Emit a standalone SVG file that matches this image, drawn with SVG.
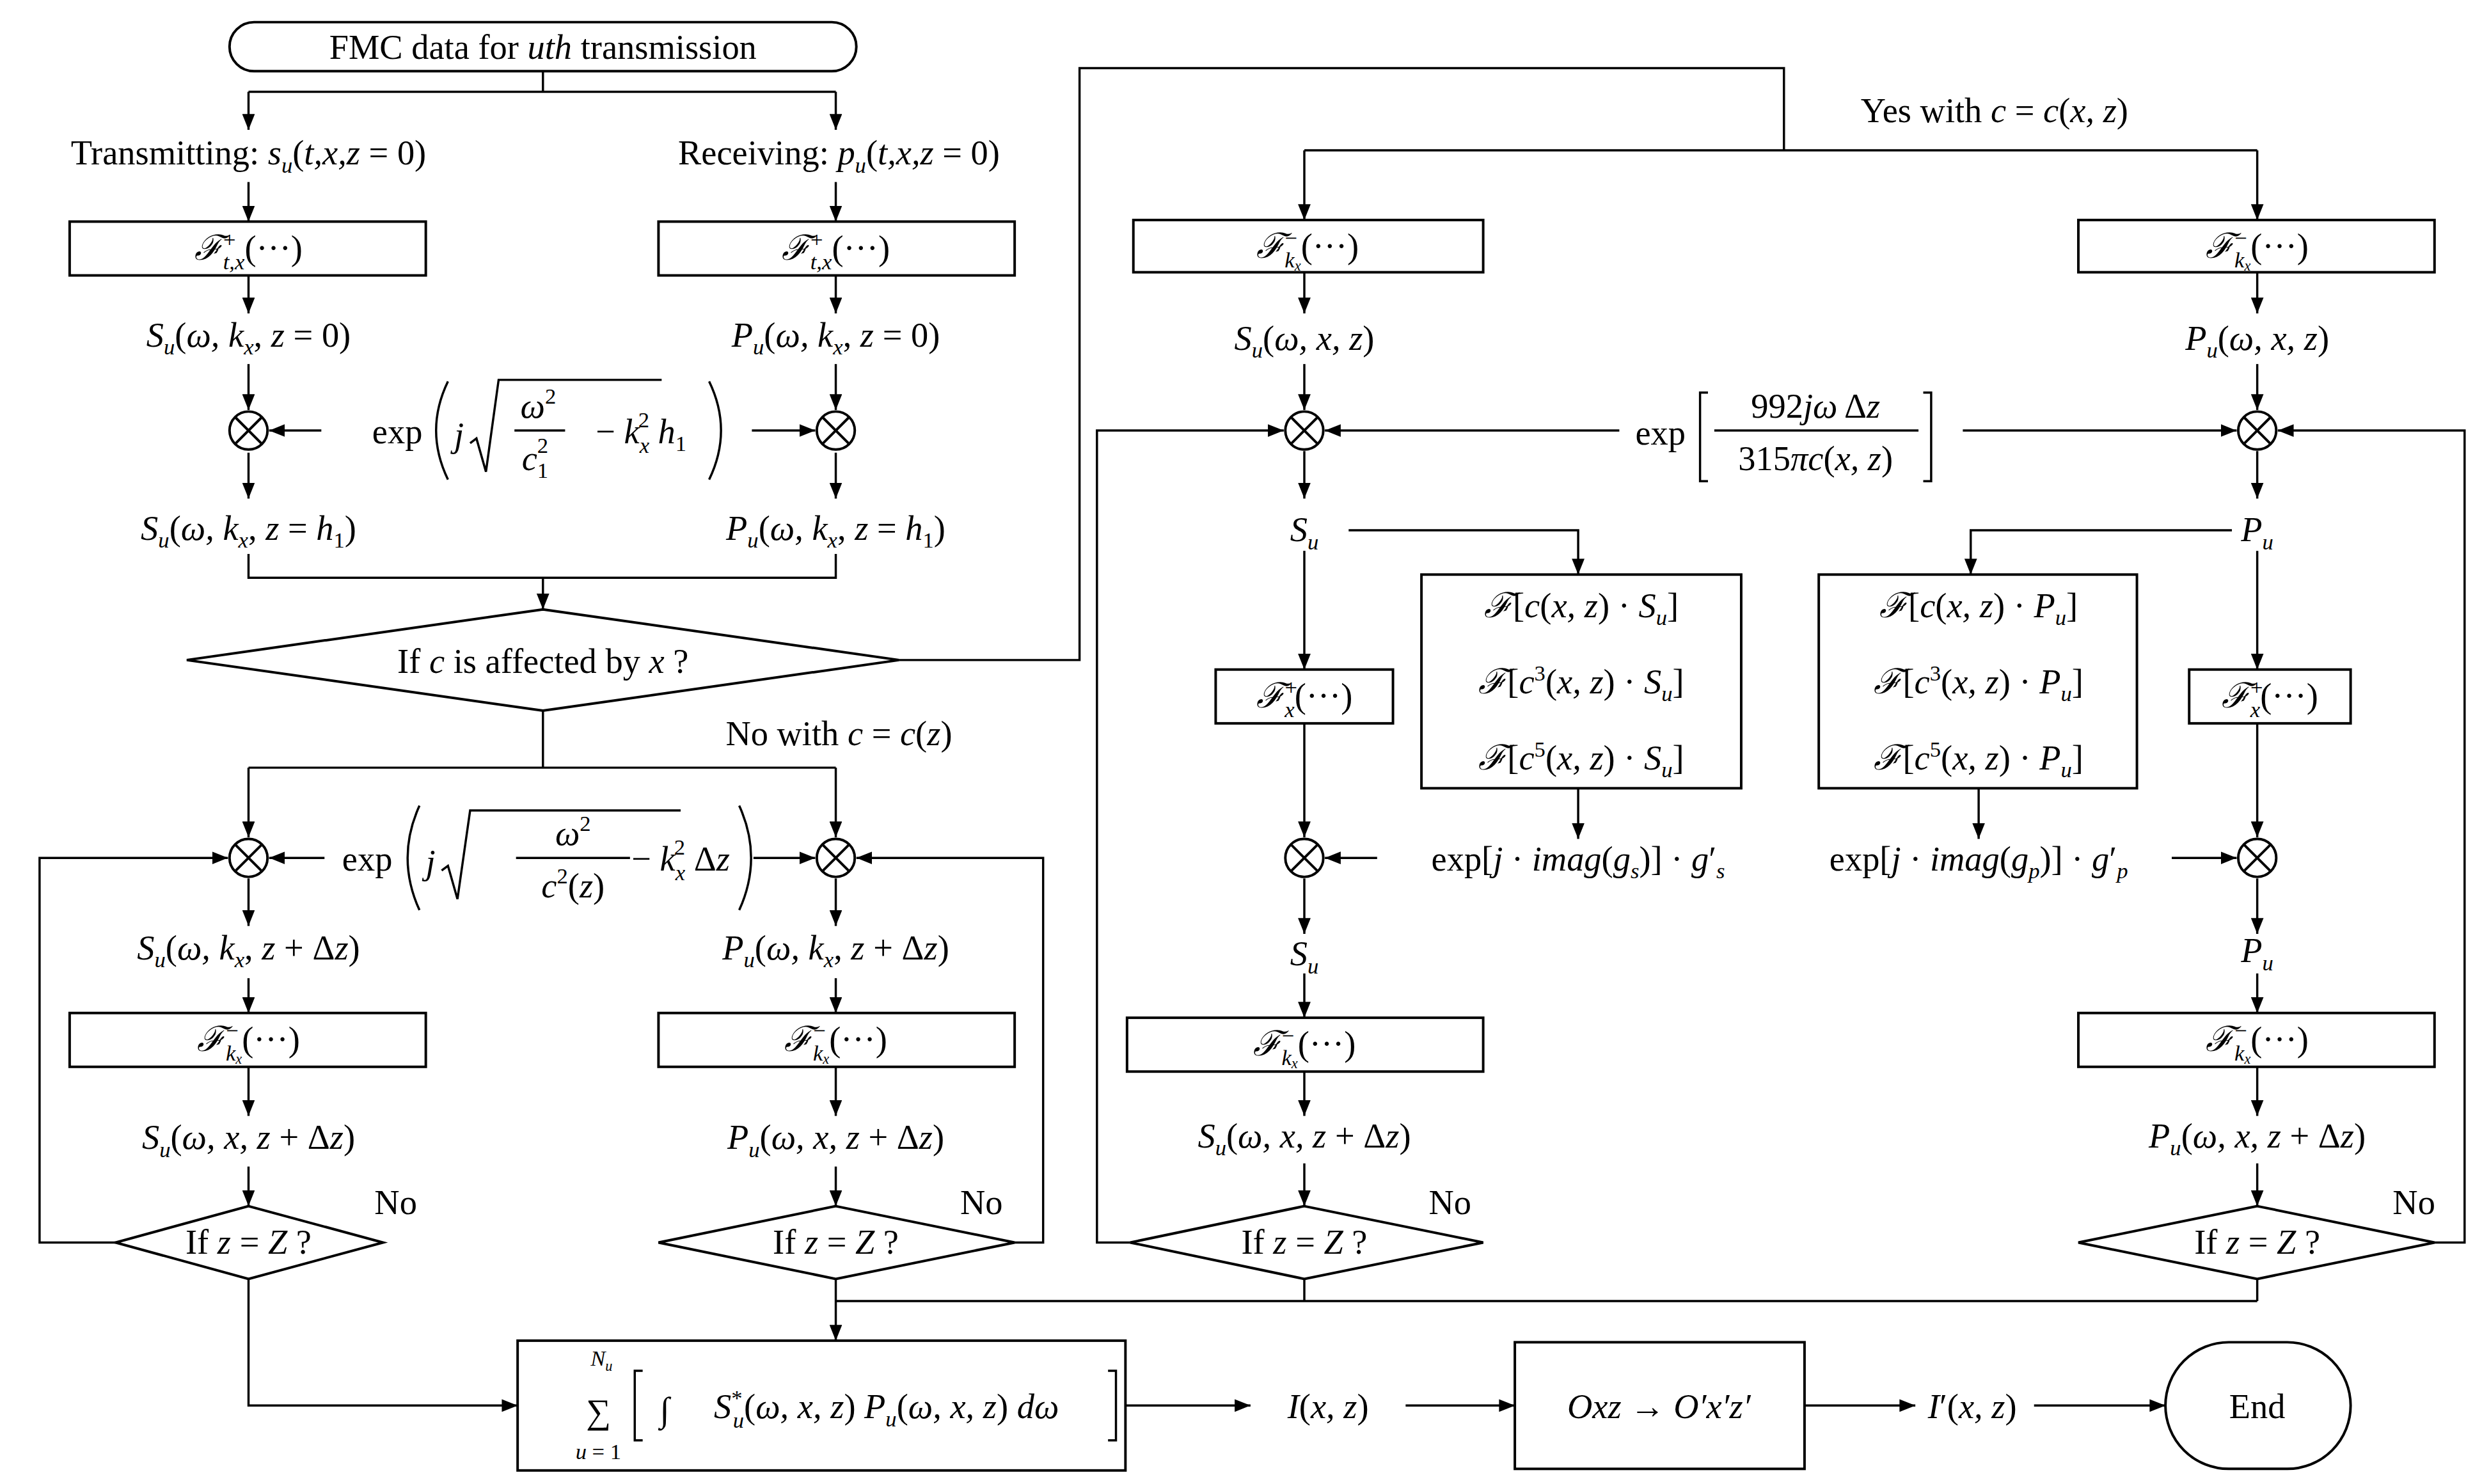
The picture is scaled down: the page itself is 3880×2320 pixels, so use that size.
<svg xmlns="http://www.w3.org/2000/svg" width="3880" height="2320" viewBox="0 0 3880 2320">
<defs>
<marker id="a" markerUnits="userSpaceOnUse" markerWidth="10" markerHeight="8" refX="10" refY="4" orient="auto"><path d="M0,0 L10,4 L0,8 z" fill="#000"/></marker>
<style>
.l{fill:none;stroke:#000;stroke-width:1.4}
.c{fill:none;stroke:#000;stroke-width:1.4;marker-end:url(#a)}
.b{fill:#fff;stroke:#000;stroke-width:1.6}
text{font-family:"Liberation Serif","Times New Roman",serif;font-size:22px;fill:#000;text-anchor:middle}
.i{font-style:italic}
.s{font-size:14px}
.x{stroke:#000;stroke-width:1.6}
</style>
</defs>
<rect width="3880" height="2320" fill="#fff"/>
<g transform="scale(2.4745)">
<g id="connectors">
<path class="l" d="M343,45V58M157,58H528"/>
<path class="c" d="M157,58V82"/><path class="c" d="M528,58V82"/>
<path class="c" d="M157,115V140"/><path class="c" d="M528,115V140"/>
<path class="c" d="M157,174V198"/><path class="c" d="M528,174V198"/>
<path class="c" d="M157,230V259"/><path class="c" d="M528,230V259"/>
<path class="c" d="M203,272H170"/><path class="c" d="M475,272H515"/>
<path class="c" d="M157,286V315"/><path class="c" d="M528,286V315"/>
<path class="l" d="M157,350V365H528V350"/><path class="c" d="M343,365V385"/>
<path class="l" d="M568,417H682V43H1127V95M824,95H1426"/>
<path class="c" d="M824,95V139"/><path class="c" d="M1426,95V139"/>
<path class="l" d="M343,449V485M157,485H528"/>
<path class="c" d="M157,485V529"/><path class="c" d="M528,485V529"/>
<path class="c" d="M205,542H170"/><path class="c" d="M476,542H515"/>
<path class="c" d="M73,785H25V542H144"/><path class="c" d="M641,785H659V542H541"/>
<path class="c" d="M157,555V585"/><path class="c" d="M528,555V585"/>
<path class="c" d="M157,618V640"/><path class="c" d="M528,618V640"/>
<path class="c" d="M157,674V705"/><path class="c" d="M528,674V705"/>
<path class="c" d="M157,737V762"/><path class="c" d="M528,737V762"/>
<path class="c" d="M157,808V888H327"/>
<path class="l" d="M824,808V822M1426,808V822M528,822H1426"/>
<path class="c" d="M528,808V847"/>
<path class="c" d="M711,888H790"/><path class="c" d="M888,888H957"/>
<path class="c" d="M1140,888H1210"/><path class="c" d="M1285,888H1368"/>
<path class="c" d="M824,172V198"/><path class="c" d="M1426,172V198"/>
<path class="c" d="M824,230V259"/><path class="c" d="M1426,230V259"/>
<path class="c" d="M1023,272H837"/><path class="c" d="M1240,272H1413"/>
<path class="c" d="M714,785H693V272H811"/><path class="c" d="M1538,785H1557V272H1439"/>
<path class="c" d="M824,285V315"/><path class="c" d="M1426,285V315"/>
<path class="c" d="M852,335H997V363"/><path class="c" d="M1410,335H1245V363"/>
<path class="c" d="M824,348V423"/><path class="c" d="M1426,348V423"/>
<path class="c" d="M824,457V529"/><path class="c" d="M1426,457V529"/>
<path class="c" d="M997,498V530"/><path class="c" d="M1250,498V530"/>
<path class="c" d="M870,542H837"/><path class="c" d="M1372,542H1413"/>
<path class="c" d="M824,555V590"/><path class="c" d="M1426,555V590"/>
<path class="c" d="M824,615V643"/><path class="c" d="M1426,615V640"/>
<path class="c" d="M824,677V705"/><path class="c" d="M1426,674V705"/>
<path class="c" d="M824,735V762"/><path class="c" d="M1426,735V762"/>
</g>

<g id="start"><rect class="b" x="145" y="14" width="396" height="31" rx="15.5"/><text x="343" y="37">FMC data for <tspan class="i">uth</tspan> transmission</text></g>
<g id="tx"><text x="157" y="104">Transmitting: <tspan class="i">s</tspan><tspan class="i s" dy="5">u</tspan><tspan dy="-5">(</tspan><tspan class="i">t,x,z</tspan> = 0)</text></g>
<g id="rx"><text x="530" y="104">Receiving: <tspan class="i">p</tspan><tspan class="i s" dy="5">u</tspan><tspan dy="-5">(</tspan><tspan class="i">t,x,z</tspan> = 0)</text></g>

<g id="ftx1"><rect class="b" x="44" y="140" width="225" height="34"/><text x="157" y="164"><tspan class="i">ℱ</tspan><tspan class="s" dy="-8">+</tspan><tspan class="i s" dx="-8" dy="14">t,x</tspan><tspan dy="-6">(···)</tspan></text></g>
<g id="ftx2"><rect class="b" x="416" y="140" width="225" height="34"/><text x="528" y="164"><tspan class="i">ℱ</tspan><tspan class="s" dy="-8">+</tspan><tspan class="i s" dx="-8" dy="14">t,x</tspan><tspan dy="-6">(···)</tspan></text></g>

<g id="s0"><text x="157" y="219"><tspan class="i">S</tspan><tspan class="i s" dy="5">u</tspan><tspan dy="-5">(</tspan><tspan class="i">ω, k</tspan><tspan class="i s" dy="5">x</tspan><tspan dy="-5">, </tspan><tspan class="i">z</tspan> = 0)</text></g>
<g id="p0"><text x="528" y="219"><tspan class="i">P</tspan><tspan class="i s" dy="5">u</tspan><tspan dy="-5">(</tspan><tspan class="i">ω, k</tspan><tspan class="i s" dy="5">x</tspan><tspan dy="-5">, </tspan><tspan class="i">z</tspan> = 0)</text></g>

<g id="m1"><circle class="b" cx="157" cy="272" r="12"/><path class="x" d="M149,264L165,280M165,264L149,280"/></g>
<g id="m2"><circle class="b" cx="528" cy="272" r="12"/><path class="x" d="M520,264L536,280M536,264L520,280"/></g>
<g id="e1">
<text x="251" y="280">exp</text>
<path class="l" d="M283,241Q268,272 283,303M448,241Q463,272 448,303"/>
<text x="290" y="282" class="i">j</text>
<path class="l" d="M297,280L301,277L307,298L315,240H418"/>
<text x="340" y="264" class="i">ω<tspan class="s" font-style="normal" dy="-9">2</tspan></text>
<path class="l" d="M325,272H357"/>
<text x="338" y="297" class="i">c<tspan class="s" font-style="normal" dy="5">1</tspan><tspan class="s" font-style="normal" dx="-7" dy="-16">2</tspan></text>
<text x="405" y="280">− <tspan class="i">k</tspan><tspan class="i s" dy="6">x</tspan><tspan class="s" dx="-7" dy="-16">2</tspan><tspan class="i" dy="10"> h</tspan><tspan class="s" dy="5">1</tspan></text>
</g>

<g id="s1"><text x="157" y="341"><tspan class="i">S</tspan><tspan class="i s" dy="5">u</tspan><tspan dy="-5">(</tspan><tspan class="i">ω, k</tspan><tspan class="i s" dy="5">x</tspan><tspan dy="-5">, </tspan><tspan class="i">z</tspan> = <tspan class="i">h</tspan><tspan class="s" dy="5">1</tspan><tspan dy="-5">)</tspan></text></g>
<g id="p1"><text x="528" y="341"><tspan class="i">P</tspan><tspan class="i s" dy="5">u</tspan><tspan dy="-5">(</tspan><tspan class="i">ω, k</tspan><tspan class="i s" dy="5">x</tspan><tspan dy="-5">, </tspan><tspan class="i">z</tspan> = <tspan class="i">h</tspan><tspan class="s" dy="5">1</tspan><tspan dy="-5">)</tspan></text></g>

<g id="d0"><path class="b" d="M343,385L568,417L343,449L118,417z"/><text x="343" y="425">If <tspan class="i">c</tspan>  is affected by <tspan class="i">x</tspan> ?</text></g>
<text x="1260" y="77">Yes with <tspan class="i">c</tspan> = <tspan class="i">c</tspan>(<tspan class="i">x, z</tspan>)</text>
<text x="530" y="471">No with <tspan class="i">c</tspan> = <tspan class="i">c</tspan>(<tspan class="i">z</tspan>)</text>

<g id="m3"><circle class="b" cx="157" cy="542" r="12"/><path class="x" d="M149,534L165,550M165,534L149,550"/></g>
<g id="m4"><circle class="b" cx="528" cy="542" r="12"/><path class="x" d="M520,534L536,550M536,534L520,550"/></g>
<g id="e2">
<text x="232" y="550">exp</text>
<path class="l" d="M265,509Q250,542 265,575M467,509Q482,542 467,575"/>
<text x="272" y="552" class="i">j</text>
<path class="l" d="M279,550L283,547L289,568L297,512H430"/>
<text x="362" y="534" class="i">ω<tspan class="s" font-style="normal" dy="-9">2</tspan></text>
<path class="l" d="M326,542H398"/>
<text x="362" y="567" class="i">c<tspan class="s" font-style="normal" dy="-9">2</tspan><tspan font-style="normal" dy="9">(</tspan>z<tspan font-style="normal">)</tspan></text>
<text x="430" y="550">− <tspan class="i">k</tspan><tspan class="i s" dy="6">x</tspan><tspan class="s" dx="-7" dy="-16">2</tspan><tspan dy="10"> Δ</tspan><tspan class="i">z</tspan></text>
</g>

<g id="s2"><text x="157" y="606"><tspan class="i">S</tspan><tspan class="i s" dy="5">u</tspan><tspan dy="-5">(</tspan><tspan class="i">ω, k</tspan><tspan class="i s" dy="5">x</tspan><tspan dy="-5">, </tspan><tspan class="i">z</tspan> + Δ<tspan class="i">z</tspan>)</text></g>
<g id="p2"><text x="528" y="606"><tspan class="i">P</tspan><tspan class="i s" dy="5">u</tspan><tspan dy="-5">(</tspan><tspan class="i">ω, k</tspan><tspan class="i s" dy="5">x</tspan><tspan dy="-5">, </tspan><tspan class="i">z</tspan> + Δ<tspan class="i">z</tspan>)</text></g>

<g id="fk1"><rect class="b" x="44" y="640" width="225" height="34"/><text x="157" y="664"><tspan class="i">ℱ</tspan><tspan class="s" dy="-8">−</tspan><tspan class="i s" dx="-8" dy="14">k</tspan><tspan class="i" font-size="9" dy="2">x</tspan><tspan dy="-8">(···)</tspan></text></g>
<g id="fk2"><rect class="b" x="416" y="640" width="225" height="34"/><text x="528" y="664"><tspan class="i">ℱ</tspan><tspan class="s" dy="-8">−</tspan><tspan class="i s" dx="-8" dy="14">k</tspan><tspan class="i" font-size="9" dy="2">x</tspan><tspan dy="-8">(···)</tspan></text></g>

<g id="s3"><text x="157" y="726"><tspan class="i">S</tspan><tspan class="i s" dy="5">u</tspan><tspan dy="-5">(</tspan><tspan class="i">ω, x, z</tspan> + Δ<tspan class="i">z</tspan>)</text></g>
<g id="p3"><text x="528" y="726"><tspan class="i">P</tspan><tspan class="i s" dy="5">u</tspan><tspan dy="-5">(</tspan><tspan class="i">ω, x, z</tspan> + Δ<tspan class="i">z</tspan>)</text></g>

<g id="d1"><path class="b" d="M157,762L242,785L157,808L73,785z"/><text x="157" y="792">If <tspan class="i">z</tspan> = <tspan class="i">Z</tspan> ?</text><text x="250" y="767">No</text></g>
<g id="d2"><path class="b" d="M528,762L641,785L528,808L416,785z"/><text x="528" y="792">If <tspan class="i">z</tspan> = <tspan class="i">Z</tspan> ?</text><text x="620" y="767">No</text></g>

<g id="sum"><rect class="b" x="327" y="847" width="384" height="82"/>
<text x="378" y="899" font-size="36">∑</text>
<text x="380" y="863" class="i s">N<tspan font-size="9" dy="3">u</tspan></text>
<text x="378" y="922" class="s"><tspan class="i">u</tspan> = 1</text>
<path class="l" d="M406,866H401V910H406M700,866H705V910H700"/>
<text x="420" y="898" font-size="32" class="i">∫</text>
<text x="560" y="896"><tspan class="i">S</tspan><tspan class="s" dy="-8">*</tspan><tspan class="i s" dx="-6" dy="14">u</tspan><tspan dy="-6">(</tspan><tspan class="i">ω, x, z</tspan>)<tspan class="i"> P</tspan><tspan class="i s" dy="5">u</tspan><tspan dy="-5">(</tspan><tspan class="i">ω, x, z</tspan>)<tspan class="i"> dω</tspan></text>
</g>
<text x="839" y="896"><tspan class="i">I</tspan>(<tspan class="i">x, z</tspan>)</text>
<g id="rot"><rect class="b" x="957" y="848" width="183" height="80"/><text x="1048" y="896" class="i">Oxz → O′x′z′</text></g>
<text x="1246" y="896"><tspan class="i">I</tspan>′(<tspan class="i">x, z</tspan>)</text>
<g id="end"><rect class="b" x="1368" y="848" width="117" height="80" rx="40"/><text x="1426" y="896">End</text></g>

<!-- right side -->
<g id="rk1"><rect class="b" x="716" y="139" width="221" height="33"/><text x="826" y="163"><tspan class="i">ℱ</tspan><tspan class="s" dy="-8">−</tspan><tspan class="i s" dx="-8" dy="14">k</tspan><tspan class="i" font-size="9" dy="2">x</tspan><tspan dy="-8">(···)</tspan></text></g>
<g id="rk2"><rect class="b" x="1313" y="139" width="225" height="33"/><text x="1426" y="163"><tspan class="i">ℱ</tspan><tspan class="s" dy="-8">−</tspan><tspan class="i s" dx="-8" dy="14">k</tspan><tspan class="i" font-size="9" dy="2">x</tspan><tspan dy="-8">(···)</tspan></text></g>
<g id="rs0"><text x="824" y="221"><tspan class="i">S</tspan><tspan class="i s" dy="5">u</tspan><tspan dy="-5">(</tspan><tspan class="i">ω, x, z</tspan>)</text></g>
<g id="rp0"><text x="1426" y="221"><tspan class="i">P</tspan><tspan class="i s" dy="5">u</tspan><tspan dy="-5">(</tspan><tspan class="i">ω, x, z</tspan>)</text></g>
<g id="m5"><circle class="b" cx="824" cy="272" r="12"/><path class="x" d="M816,264L832,280M832,264L816,280"/></g>
<g id="m6"><circle class="b" cx="1426" cy="272" r="12"/><path class="x" d="M1418,264L1434,280M1434,264L1418,280"/></g>
<g id="e3">
<text x="1049" y="281">exp</text>
<path class="l" d="M1079,248H1074V304H1079M1215,248H1220V304H1215"/>
<text x="1147" y="264">992<tspan class="i">jω</tspan> Δ<tspan class="i">z</tspan></text>
<path class="l" d="M1083,272H1212"/>
<text x="1147" y="297">315<tspan class="i">πc</tspan>(<tspan class="i">x, z</tspan>)</text>
</g>
<text x="824" y="342" class="i">S<tspan class="s" dy="5">u</tspan></text>
<text x="1426" y="342" class="i">P<tspan class="s" dy="5">u</tspan></text>
<g id="fs"><rect class="b" x="898" y="363" width="202" height="135"/>
<text x="999" y="390"><tspan class="i">ℱ</tspan>[<tspan class="i">c</tspan>(<tspan class="i">x, z</tspan>) · <tspan class="i">S</tspan><tspan class="i s" dy="5">u</tspan><tspan dy="-5">]</tspan></text>
<text x="999" y="438"><tspan class="i">ℱ</tspan>[<tspan class="i">c</tspan><tspan class="s" dy="-8">3</tspan><tspan dy="8">(</tspan><tspan class="i">x, z</tspan>) · <tspan class="i">S</tspan><tspan class="i s" dy="5">u</tspan><tspan dy="-5">]</tspan></text>
<text x="999" y="486"><tspan class="i">ℱ</tspan>[<tspan class="i">c</tspan><tspan class="s" dy="-8">5</tspan><tspan dy="8">(</tspan><tspan class="i">x, z</tspan>) · <tspan class="i">S</tspan><tspan class="i s" dy="5">u</tspan><tspan dy="-5">]</tspan></text>
</g>
<g id="fp"><rect class="b" x="1149" y="363" width="201" height="135"/>
<text x="1250" y="390"><tspan class="i">ℱ</tspan>[<tspan class="i">c</tspan>(<tspan class="i">x, z</tspan>) · <tspan class="i">P</tspan><tspan class="i s" dy="5">u</tspan><tspan dy="-5">]</tspan></text>
<text x="1250" y="438"><tspan class="i">ℱ</tspan>[<tspan class="i">c</tspan><tspan class="s" dy="-8">3</tspan><tspan dy="8">(</tspan><tspan class="i">x, z</tspan>) · <tspan class="i">P</tspan><tspan class="i s" dy="5">u</tspan><tspan dy="-5">]</tspan></text>
<text x="1250" y="486"><tspan class="i">ℱ</tspan>[<tspan class="i">c</tspan><tspan class="s" dy="-8">5</tspan><tspan dy="8">(</tspan><tspan class="i">x, z</tspan>) · <tspan class="i">P</tspan><tspan class="i s" dy="5">u</tspan><tspan dy="-5">]</tspan></text>
</g>
<g id="rf1"><rect class="b" x="768" y="423" width="112" height="34"/><text x="824" y="447"><tspan class="i">ℱ</tspan><tspan class="s" dy="-8">+</tspan><tspan class="i s" dx="-8" dy="14">x</tspan><tspan dy="-6">(···)</tspan></text></g>
<g id="rf2"><rect class="b" x="1383" y="423" width="102" height="34"/><text x="1434" y="447"><tspan class="i">ℱ</tspan><tspan class="s" dy="-8">+</tspan><tspan class="i s" dx="-8" dy="14">x</tspan><tspan dy="-6">(···)</tspan></text></g>
<g id="m7"><circle class="b" cx="824" cy="542" r="12"/><path class="x" d="M816,534L832,550M832,534L816,550"/></g>
<g id="m8"><circle class="b" cx="1426" cy="542" r="12"/><path class="x" d="M1418,534L1434,550M1434,534L1418,550"/></g>
<text x="997" y="550">exp[<tspan class="i">j</tspan> · <tspan class="i">imag</tspan>(<tspan class="i">g</tspan><tspan class="i s" dy="5">s</tspan><tspan dy="-5">)] · </tspan><tspan class="i">g</tspan>′<tspan class="i s" dy="5">s</tspan></text>
<text x="1250" y="550">exp[<tspan class="i">j</tspan> · <tspan class="i">imag</tspan>(<tspan class="i">g</tspan><tspan class="i s" dy="5">p</tspan><tspan dy="-5">)] · </tspan><tspan class="i">g</tspan>′<tspan class="i s" dy="5">p</tspan></text>
<text x="824" y="610" class="i">S<tspan class="s" dy="5">u</tspan></text>
<text x="1426" y="608" class="i">P<tspan class="s" dy="5">u</tspan></text>
<g id="rk3"><rect class="b" x="712" y="643" width="225" height="34"/><text x="824" y="667"><tspan class="i">ℱ</tspan><tspan class="s" dy="-8">−</tspan><tspan class="i s" dx="-8" dy="14">k</tspan><tspan class="i" font-size="9" dy="2">x</tspan><tspan dy="-8">(···)</tspan></text></g>
<g id="rk4"><rect class="b" x="1313" y="640" width="225" height="34"/><text x="1426" y="664"><tspan class="i">ℱ</tspan><tspan class="s" dy="-8">−</tspan><tspan class="i s" dx="-8" dy="14">k</tspan><tspan class="i" font-size="9" dy="2">x</tspan><tspan dy="-8">(···)</tspan></text></g>
<g id="rs3"><text x="824" y="725"><tspan class="i">S</tspan><tspan class="i s" dy="5">u</tspan><tspan dy="-5">(</tspan><tspan class="i">ω, x, z</tspan> + Δ<tspan class="i">z</tspan>)</text></g>
<g id="rp3"><text x="1426" y="725"><tspan class="i">P</tspan><tspan class="i s" dy="5">u</tspan><tspan dy="-5">(</tspan><tspan class="i">ω, x, z</tspan> + Δ<tspan class="i">z</tspan>)</text></g>
<g id="d3"><path class="b" d="M824,762L937,785L824,808L714,785z"/><text x="824" y="792">If <tspan class="i">z</tspan> = <tspan class="i">Z</tspan> ?</text><text x="916" y="767">No</text></g>
<g id="d4"><path class="b" d="M1426,762L1538,785L1426,808L1313,785z"/><text x="1426" y="792">If <tspan class="i">z</tspan> = <tspan class="i">Z</tspan> ?</text><text x="1525" y="767">No</text></g>
</g>
</svg>
